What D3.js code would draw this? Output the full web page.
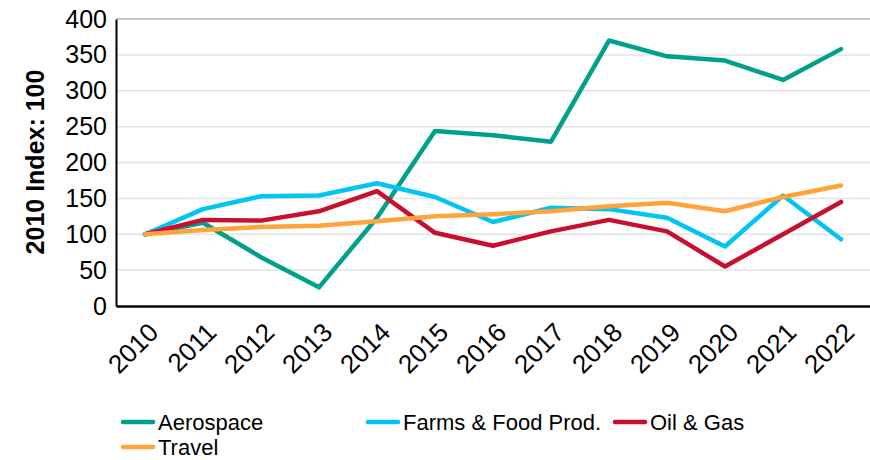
<!DOCTYPE html>
<html>
<head>
<meta charset="utf-8">
<script src="https://cdn.jsdelivr.net/npm/d3@7"></script>
<style>
  html, body { margin: 0; padding: 0; background: #fff; }
  svg { display: block; font-family: "Liberation Sans", Arial, sans-serif; }
</style>
</head>
<body>
<svg id="chart" width="870" height="460"></svg>
<script>
// Years on the x axis
const years = ["2010","2011","2012","2013","2014","2015","2016","2017","2018","2019","2020","2021","2022"];

// Index values (2010 = 100) per sector
const aerospace = [100, 116, 68, 26, 123, 244, 238, 229, 370, 348, 342, 315, 358];
const farmsFood = [100, 135, 153, 154, 171, 152, 117, 137, 135, 123, 83, 154, 93];
const oilGas    = [100, 120, 119, 132, 160, 102, 84, 104, 120, 104, 55, 100, 145];
const travel    = [100, 106, 110, 112, 118, 125, 128, 132, 139, 144, 132, 152, 168];

const seriesNames  = ["Aerospace", "Farms & Food Prod.", "Oil & Gas", "Travel"];
const seriesColors = ["#00A08A", "#00C4F4", "#C8102E", "#FFA33A"];
const yTicks = [0, 50, 100, 150, 200, 250, 300, 350, 400];

const series = [aerospace, farmsFood, oilGas, travel].map((vals, i) => ({
  name: seriesNames[i], color: seriesColors[i], values: vals
}));

const svg = d3.select("#chart");
const margin = { left: 116, right: 0, top: 19, bottom: 154 };
const W = 870, H = 460;

const x = d3.scaleBand().domain(years).range([margin.left, W - margin.right]);
const y = d3.scaleLinear().domain([0, 400]).range([H - margin.bottom, margin.top]);
const cx = d => x(d) + x.bandwidth() / 2;

// Horizontal gridlines
svg.append("g").selectAll("line")
  .data(yTicks.filter(t => t > 0))
  .join("line")
  .attr("x1", margin.left).attr("x2", W - margin.right)
  .attr("y1", d => y(d)).attr("y2", d => y(d))
  .attr("stroke", d => d === 400 ? "#b4b4b4" : "#e3e3e3")
  .attr("stroke-width", 1.5);

// Y axis
const yAxis = svg.append("g")
  .attr("transform", `translate(${margin.left},0)`)
  .call(d3.axisLeft(y).tickValues(yTicks).tickSize(0).tickPadding(9));
yAxis.select(".domain").attr("stroke", "#000").attr("stroke-width", 2);
yAxis.selectAll("text").attr("font-size", 25).attr("fill", "#000")
  .attr("font-family", "Liberation Sans, Arial, sans-serif");

// X axis with rotated year labels
const xAxis = svg.append("g")
  .attr("transform", `translate(0,${y(0)})`)
  .call(d3.axisBottom(x).tickSize(0).tickPadding(0));
xAxis.select(".domain").attr("stroke", "#000").attr("stroke-width", 2.5);
xAxis.selectAll("text")
  .attr("font-size", 26).attr("fill", "#000")
  .attr("font-family", "Liberation Sans, Arial, sans-serif")
  .attr("text-anchor", "end")
  .attr("dy", 0)
  .attr("transform", "translate(15,28) rotate(-45)");

// Y axis title
svg.append("text")
  .attr("transform", `translate(44,162) rotate(-90)`)
  .attr("text-anchor", "middle")
  .attr("font-size", 25).attr("font-weight", "bold")
  .text("2010 Index: 100");

// Lines
const line = d3.line().x((d, i) => cx(years[i])).y(d => y(d));
svg.append("g").selectAll("path")
  .data(series)
  .join("path")
  .attr("d", d => line(d.values))
  .attr("fill", "none")
  .attr("stroke", d => d.color)
  .attr("stroke-width", 4.5)
  .attr("stroke-linejoin", "round")
  .attr("stroke-linecap", "round");

// Legend
const legendPos = [[123, 422], [368, 422], [615, 422], [123, 447]];
const lg = svg.append("g").selectAll("g")
  .data(series)
  .join("g")
  .attr("transform", (d, i) => `translate(${legendPos[i][0]},${legendPos[i][1]})`);
lg.append("line")
  .attr("x1", 0).attr("x2", 30).attr("y1", 0).attr("y2", 0)
  .attr("stroke", d => d.color).attr("stroke-width", 4.5).attr("stroke-linecap", "round");
lg.append("text")
  .attr("x", 35).attr("y", 0).attr("dy", "0.35em")
  .attr("font-size", 22).attr("fill", "#000")
  .text(d => d.name);
</script>
</body>
</html>
